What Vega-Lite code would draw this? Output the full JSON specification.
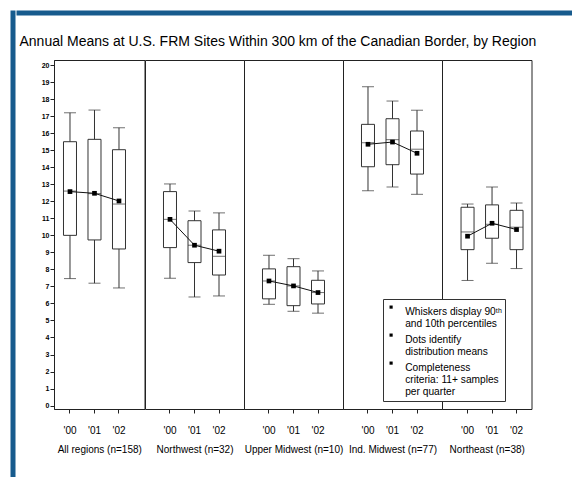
{
  "$schema": "https://vega.github.io/schema/vega-lite/v6.json",
  "background": "white",
  "padding": {"left": 10, "top": 10, "right": 0, "bottom": 0},
  "config": {
    "view": {"stroke": null},
    "font": "Liberation Sans",
    "concat": {"spacing": 0},
    "axisX": {"domain": false, "tickSize": 4, "tickColor": "#222", "labelFontSize": 10, "labelFont": "Liberation Sans", "labelColor": "black", "labelPadding": 12, "labelAngle": 0, "grid": false, "titleFont": "Liberation Sans", "titleFontSize": 10, "titleFontWeight": "normal", "titleColor": "black", "titlePadding": 9},
    "axisY": {"labelOverlap": false, "grid": false},
    "tick": {"color": "#333", "thickness": 1},
    "rule": {"color": "#333", "strokeWidth": 1},
    "line": {"color": "#111", "strokeWidth": 1}
  },
  "datasets": {
    "boxes": [
      {"region": "All regions (n=158)", "year": "'00", "p10": 7.46, "q1": 10.0, "median": 12.6, "q3": 15.5, "p90": 17.2, "mean": 12.57},
      {"region": "All regions (n=158)", "year": "'01", "p10": 7.19, "q1": 9.73, "median": 12.45, "q3": 15.64, "p90": 17.36, "mean": 12.47},
      {"region": "All regions (n=158)", "year": "'02", "p10": 6.91, "q1": 9.2, "median": 11.84, "q3": 15.03, "p90": 16.32, "mean": 12.02},
      {"region": "Northwest (n=32)", "year": "'00", "p10": 7.48, "q1": 9.28, "median": 10.94, "q3": 12.57, "p90": 13.02, "mean": 10.94},
      {"region": "Northwest (n=32)", "year": "'01", "p10": 6.38, "q1": 8.4, "median": 9.42, "q3": 10.86, "p90": 11.43, "mean": 9.42},
      {"region": "Northwest (n=32)", "year": "'02", "p10": 6.44, "q1": 7.67, "median": 8.77, "q3": 10.32, "p90": 11.32, "mean": 9.07},
      {"region": "Upper Midwest (n=10)", "year": "'00", "p10": 5.95, "q1": 6.27, "median": 7.32, "q3": 8.03, "p90": 8.83, "mean": 7.32},
      {"region": "Upper Midwest (n=10)", "year": "'01", "p10": 5.54, "q1": 5.87, "median": 7.03, "q3": 8.16, "p90": 8.63, "mean": 7.03},
      {"region": "Upper Midwest (n=10)", "year": "'02", "p10": 5.43, "q1": 5.97, "median": 6.64, "q3": 7.36, "p90": 7.91, "mean": 6.64},
      {"region": "Ind. Midwest (n=77)", "year": "'00", "p10": 12.62, "q1": 14.03, "median": 15.44, "q3": 16.52, "p90": 18.73, "mean": 15.35},
      {"region": "Ind. Midwest (n=77)", "year": "'01", "p10": 12.84, "q1": 14.15, "median": 15.62, "q3": 16.85, "p90": 17.89, "mean": 15.48},
      {"region": "Ind. Midwest (n=77)", "year": "'02", "p10": 12.41, "q1": 13.6, "median": 15.06, "q3": 16.13, "p90": 17.35, "mean": 14.82},
      {"region": "Northeast (n=38)", "year": "'00", "p10": 7.35, "q1": 9.16, "median": 10.2, "q3": 11.65, "p90": 11.84, "mean": 9.95},
      {"region": "Northeast (n=38)", "year": "'01", "p10": 8.36, "q1": 9.83, "median": 10.65, "q3": 11.79, "p90": 12.84, "mean": 10.71},
      {"region": "Northeast (n=38)", "year": "'02", "p10": 8.05, "q1": 9.16, "median": 10.48, "q3": 11.47, "p90": 11.9, "mean": 10.34}
    ]
  },
  "spacing": 0,
  "hconcat": [
    {
      "data": {"values": []},
      "mark": "point",
      "width": 0.01,
      "height": 470,
      "view": {"stroke": "#175b8d", "strokeWidth": 5}
    },
    {
      "spacing": 0,
      "vconcat": [
        {
          "data": {"values": []},
          "mark": "point",
          "width": 560,
          "height": 0.01,
          "view": {"stroke": "#175b8d", "strokeWidth": 5}
        },
        {
          "title": {
            "text": [" ", "Annual Means at U.S. FRM Sites Within 300 km of the Canadian Border, by Region"],
            "anchor": "start",
            "frame": "bounds",
            "dx": 0.5,
            "fontSize": 14,
            "fontWeight": "normal",
            "font": "Liberation Sans",
            "lineHeight": 18,
            "offset": 11,
            "color": "black"
          },
          "spacing": 34,
          "bounds": "flush",
          "hconcat": [
            {
              "data": {"values": []},
              "mark": "point",
              "width": 0.01,
              "height": 349
            },
            {
              "spacing": 0,
              "bounds": "flush",
              "hconcat": [
                {
                  "width": 90.5,
                  "height": 349,
                  "data": {"name": "boxes"},
                  "transform": [{"filter": {"field": "region", "equal": "All regions (n=158)"}}],
                  "view": {"stroke": "#222", "strokeWidth": 1},
                  "encoding": {"x": {"field": "year", "type": "ordinal", "scale": {"paddingInner": 0, "paddingOuter": 0.347, "align": 0.22}, "axis": {"title": "All regions (n=158)"}}},
                  "layer": [
                    {
                      "mark": "rule",
                      "encoding": {
                        "y": {
                          "field": "p10",
                          "type": "quantitative",
                          "scale": {"domain": [-0.2, 20.3], "nice": false, "zero": false},
                          "axis": {
                            "title": null,
                            "values": [0,0.25,0.5,0.75,1,1.25,1.5,1.75,2,2.25,2.5,2.75,3,3.25,3.5,3.75,4,4.25,4.5,4.75,5,5.25,5.5,5.75,6,6.25,6.5,6.75,7,7.25,7.5,7.75,8,8.25,8.5,8.75,9,9.25,9.5,9.75,10,10.25,10.5,10.75,11,11.25,11.5,11.75,12,12.25,12.5,12.75,13,13.25,13.5,13.75,14,14.25,14.5,14.75,15,15.25,15.5,15.75,16,16.25,16.5,16.75,17,17.25,17.5,17.75,18,18.25,18.5,18.75,19,19.25,19.5,19.75,20],
                            "tickCount": 200,
                            "format": "d",
                            "labelExpr": "datum.value % 1 === 0 ? datum.label : ''",
                            "tickSize": {"condition": {"test": "datum.value % 1 === 0", "value": 4}, "value": 2},
                            "labelOverlap": false,
                            "labelFontSize": 7,
                            "labelFontWeight": "bold",
                            "labelFont": "Liberation Sans",
                            "labelColor": "black",
                            "tickColor": "#222",
                            "labelPadding": 1,
                            "domainColor": "#222"
                          }
                        },
                        "y2": {"field": "p90"}
                      }
                    },
                    {"mark": {"type": "tick", "size": 12}, "encoding": {"y": {"field": "p10", "type": "quantitative"}}},
                    {"mark": {"type": "tick", "size": 12}, "encoding": {"y": {"field": "p90", "type": "quantitative"}}},
                    {"mark": {"type": "bar", "width": 13, "fill": "white", "stroke": "#333", "strokeWidth": 1}, "encoding": {"y": {"field": "q1", "type": "quantitative"}, "y2": {"field": "q3"}}},
                    {"mark": {"type": "tick", "size": 13}, "encoding": {"y": {"field": "median", "type": "quantitative"}}},
                    {"mark": "line", "encoding": {"y": {"field": "mean", "type": "quantitative"}}},
                    {
                      "mark": {"type": "point", "shape": "square", "filled": true, "size": 22, "opacity": 1},
                      "encoding": {
                        "y": {"field": "mean", "type": "quantitative"},
                        "color": {
                          "datum": "Whiskers display 90ᵗʰ|and 10th percentiles",
                          "scale": {"domain": ["Whiskers display 90ᵗʰ|and 10th percentiles", "Dots identify|distribution means", "Completeness|criteria:  11+ samples|per quarter"], "range": ["black", "black", "black"]},
                          "legend": {
                            "orient": "none",
                            "legendX": 370,
                            "legendY": 286,
                            "title": null,
                            "strokeColor": "#333",
                            "fillColor": "white",
                            "padding": 3,
                            "symbolType": "square",
                            "symbolSize": 10,
                            "symbolFillColor": "black",
                            "symbolStrokeWidth": 0,
                            "labelFont": "Liberation Sans",
                            "labelFontSize": 10.2,
                            "labelColor": "black",
                            "labelLimit": 0,
                            "labelOffset": 9,
                            "rowPadding": -8,
                            "labelBaseline": "top",
                            "labelExpr": "split(datum.label, '|')",
                            "zindex": 2,
                            "encode": {"labels": {"update": {"lineHeight": {"value": 11.7}}}}
                          }
                        }
                      }
                    }
                  ]
                },
                {
                  "width": 99,
                  "height": 349,
                  "data": {"name": "boxes"},
                  "transform": [{"filter": {"field": "region", "equal": "Northwest (n=32)"}}],
                  "view": {"stroke": "#222", "strokeWidth": 1},
                  "encoding": {"x": {"field": "year", "type": "ordinal", "scale": {"paddingInner": 0, "paddingOuter": 0.52, "align": 0.5}, "axis": {"title": "Northwest (n=32)"}}},
                  "layer": [
                    {"mark": "rule", "encoding": {"y": {"field": "p10", "type": "quantitative", "scale": {"domain": [-0.2, 20.3], "nice": false, "zero": false}, "axis": null}, "y2": {"field": "p90"}}},
                    {"mark": {"type": "tick", "size": 12}, "encoding": {"y": {"field": "p10", "type": "quantitative", "axis": null}}},
                    {"mark": {"type": "tick", "size": 12}, "encoding": {"y": {"field": "p90", "type": "quantitative", "axis": null}}},
                    {"mark": {"type": "bar", "width": 13, "fill": "white", "stroke": "#333", "strokeWidth": 1}, "encoding": {"y": {"field": "q1", "type": "quantitative", "axis": null}, "y2": {"field": "q3"}}},
                    {"mark": {"type": "tick", "size": 13}, "encoding": {"y": {"field": "median", "type": "quantitative", "axis": null}}},
                    {"mark": "line", "encoding": {"y": {"field": "mean", "type": "quantitative", "axis": null}}},
                    {"mark": {"type": "point", "shape": "square", "filled": true, "size": 22, "opacity": 1, "color": "black"}, "encoding": {"y": {"field": "mean", "type": "quantitative", "axis": null}}}
                  ]
                },
                {
                  "width": 99,
                  "height": 349,
                  "data": {"name": "boxes"},
                  "transform": [{"filter": {"field": "region", "equal": "Upper Midwest (n=10)"}}],
                  "view": {"stroke": "#222", "strokeWidth": 1},
                  "encoding": {"x": {"field": "year", "type": "ordinal", "scale": {"paddingInner": 0, "paddingOuter": 0.52, "align": 0.5}, "axis": {"title": "Upper Midwest (n=10)"}}},
                  "layer": [
                    {"mark": "rule", "encoding": {"y": {"field": "p10", "type": "quantitative", "scale": {"domain": [-0.2, 20.3], "nice": false, "zero": false}, "axis": null}, "y2": {"field": "p90"}}},
                    {"mark": {"type": "tick", "size": 12}, "encoding": {"y": {"field": "p10", "type": "quantitative", "axis": null}}},
                    {"mark": {"type": "tick", "size": 12}, "encoding": {"y": {"field": "p90", "type": "quantitative", "axis": null}}},
                    {"mark": {"type": "bar", "width": 13, "fill": "white", "stroke": "#333", "strokeWidth": 1}, "encoding": {"y": {"field": "q1", "type": "quantitative", "axis": null}, "y2": {"field": "q3"}}},
                    {"mark": {"type": "tick", "size": 13}, "encoding": {"y": {"field": "median", "type": "quantitative", "axis": null}}},
                    {"mark": "line", "encoding": {"y": {"field": "mean", "type": "quantitative", "axis": null}}},
                    {"mark": {"type": "point", "shape": "square", "filled": true, "size": 22, "opacity": 1, "color": "black"}, "encoding": {"y": {"field": "mean", "type": "quantitative", "axis": null}}}
                  ]
                },
                {
                  "width": 99,
                  "height": 349,
                  "data": {"name": "boxes"},
                  "transform": [{"filter": {"field": "region", "equal": "Ind. Midwest (n=77)"}}],
                  "view": {"stroke": "#222", "strokeWidth": 1},
                  "encoding": {"x": {"field": "year", "type": "ordinal", "scale": {"paddingInner": 0, "paddingOuter": 0.52, "align": 0.5}, "axis": {"title": "Ind. Midwest (n=77)"}}},
                  "layer": [
                    {"mark": "rule", "encoding": {"y": {"field": "p10", "type": "quantitative", "scale": {"domain": [-0.2, 20.3], "nice": false, "zero": false}, "axis": null}, "y2": {"field": "p90"}}},
                    {"mark": {"type": "tick", "size": 12}, "encoding": {"y": {"field": "p10", "type": "quantitative", "axis": null}}},
                    {"mark": {"type": "tick", "size": 12}, "encoding": {"y": {"field": "p90", "type": "quantitative", "axis": null}}},
                    {"mark": {"type": "bar", "width": 13, "fill": "white", "stroke": "#333", "strokeWidth": 1}, "encoding": {"y": {"field": "q1", "type": "quantitative", "axis": null}, "y2": {"field": "q3"}}},
                    {"mark": {"type": "tick", "size": 13}, "encoding": {"y": {"field": "median", "type": "quantitative", "axis": null}}},
                    {"mark": "line", "encoding": {"y": {"field": "mean", "type": "quantitative", "axis": null}}},
                    {"mark": {"type": "point", "shape": "square", "filled": true, "size": 22, "opacity": 1, "color": "black"}, "encoding": {"y": {"field": "mean", "type": "quantitative", "axis": null}}}
                  ]
                },
                {
                  "width": 89.5,
                  "height": 349,
                  "data": {"name": "boxes"},
                  "transform": [{"filter": {"field": "region", "equal": "Northeast (n=38)"}}],
                  "view": {"stroke": "#222", "strokeWidth": 1},
                  "encoding": {"x": {"field": "year", "type": "ordinal", "scale": {"paddingInner": 0, "paddingOuter": 0.327, "align": 0.83}, "axis": {"title": "Northeast (n=38)"}}},
                  "layer": [
                    {"mark": "rule", "encoding": {"y": {"field": "p10", "type": "quantitative", "scale": {"domain": [-0.2, 20.3], "nice": false, "zero": false}, "axis": null}, "y2": {"field": "p90"}}},
                    {"mark": {"type": "tick", "size": 12}, "encoding": {"y": {"field": "p10", "type": "quantitative", "axis": null}}},
                    {"mark": {"type": "tick", "size": 12}, "encoding": {"y": {"field": "p90", "type": "quantitative", "axis": null}}},
                    {"mark": {"type": "bar", "width": 13, "fill": "white", "stroke": "#333", "strokeWidth": 1}, "encoding": {"y": {"field": "q1", "type": "quantitative", "axis": null}, "y2": {"field": "q3"}}},
                    {"mark": {"type": "tick", "size": 13}, "encoding": {"y": {"field": "median", "type": "quantitative", "axis": null}}},
                    {"mark": "line", "encoding": {"y": {"field": "mean", "type": "quantitative", "axis": null}}},
                    {"mark": {"type": "point", "shape": "square", "filled": true, "size": 22, "opacity": 1, "color": "black"}, "encoding": {"y": {"field": "mean", "type": "quantitative", "axis": null}}}
                  ]
                }
              ]
            }
          ]
        }
      ]
    }
  ]
}
